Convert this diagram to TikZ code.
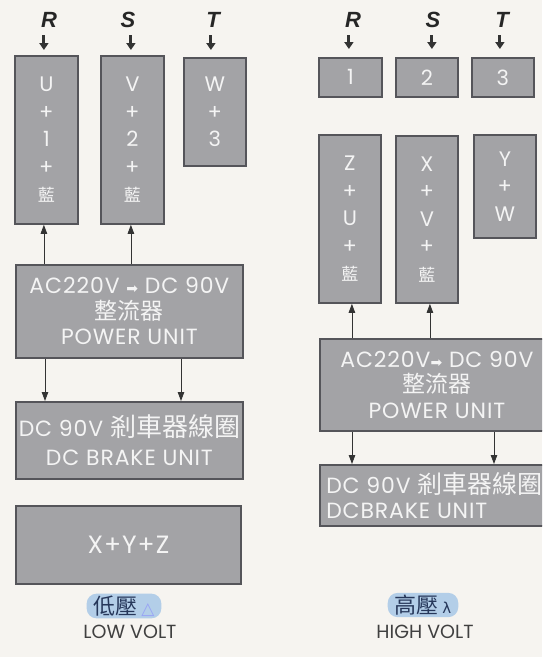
\documentclass[tikz,border=0pt]{standalone}
\usepackage{fontspec}
\setmainfont{Poppins}
\newfontfamily\boxfont{Poppins}[LetterSpace=4]
\newfontfamily\cjkfont{Noto Sans CJK TC}
\newfontfamily\symfont{DejaVu Sans}
\newfontfamily\phasefont{Liberation Sans}
\usetikzlibrary{arrows.meta,positioning,calc}
\definecolor{paper}{HTML}{F6F4F0}
\definecolor{boxfill}{HTML}{A3A3A6}
\definecolor{boxline}{HTML}{55555A}
\definecolor{boxtext}{HTML}{F4F4F4}
\definecolor{hilite}{HTML}{B3CEE8}
\definecolor{voltink}{HTML}{26375A}

\begin{document}
\begin{tikzpicture}[x=1pt,y=-1pt,
    every node/.style={font=\fontsize{18}{27}\selectfont},
    unit/.style={draw=boxline,line width=1.8pt,fill=boxfill,text=boxtext,anchor=north west,inner sep=0pt,align=center},
    col/.style={unit,font=\boxfont\fontsize{21}{27.5}\selectfont},
    phase/.style={font=\phasefont\bfseries\itshape\fontsize{22}{22}\selectfont,text=black!85},
    feed/.style={-{Triangle[length=7pt,width=9pt]},line width=3pt,black!80},
    link/.style={-{Triangle[length=9pt,width=6.5pt]},line width=0.8pt,black!80},
    tag/.style={fill=hilite,rounded corners=10pt,inner xsep=7pt,inner ysep=2pt,text=voltink,font=\cjkfont\fontsize{22}{22}\selectfont},
    volt/.style={text=black!75,font=\fontsize{19}{19}\selectfont}]
  \useasboundingbox (0,0) rectangle (542,657);
  \fill[paper] (0,0) rectangle (542,657);
  \clip (0,0) rectangle (542,657);

  % low volt side
  \node[phase] (r1) at (49,20) {R};
  \node[phase] (s1) at (128,20) {S};
  \node[phase] (t1) at (213,20) {T};
  \node[col,minimum width=63pt,minimum height=168pt] (u1) at (14,55) {U\\+\\1\\+\\{\cjkfont\fontsize{17}{17}\selectfont 藍}};
  \node[col,minimum width=63pt,minimum height=168pt] (v1) at (100,55) {V\\+\\2\\+\\{\cjkfont\fontsize{17}{17}\selectfont 藍}};
  \node[col,minimum width=62pt,minimum height=108pt] (w1) at (183,57) {W\\+\\3};
  \node[unit,minimum width=227pt,minimum height=93pt,font=\boxfont\fontsize{22}{25.5}\selectfont] (ac1) at (15,264)
    {AC220V {\symfont\fontsize{14}{14}\selectfont ➡} DC 90V\\{\cjkfont\fontsize{23}{23}\selectfont 整流器}\\POWER UNIT};
  \node[unit,minimum width=227pt,minimum height=77pt,font=\boxfont\fontsize{22}{29}\selectfont] (dc1) at (15,401)
    {DC 90V {\cjkfont\fontsize{26}{26}\selectfont 剎車器線圈}\\DC BRAKE UNIT};
  \node[unit,minimum width=225pt,minimum height=78pt,font=\boxfont\fontsize{25}{25}\selectfont] (xyz) at (15,505) {X+Y+Z};
  \draw[feed] ([xshift=-2.5pt,yshift=20pt]u1.north) -- ([xshift=-2.5pt,yshift=5pt]u1.north);
  \draw[feed] ([xshift=-1.5pt,yshift=20pt]v1.north) -- ([xshift=-1.5pt,yshift=5pt]v1.north);
  \draw[feed] ([xshift=-4pt,yshift=22pt]w1.north) -- ([xshift=-4pt,yshift=7pt]w1.north);
  \draw[link] ([xshift=-2.5pt]ac1.north -| u1.south) -- ([xshift=-2.5pt]u1.south);
  \draw[link] ([xshift=-1.5pt]ac1.north -| v1.south) -- ([xshift=-1.5pt]v1.south);
  \draw[link] ([xshift=30pt]ac1.south west) -- ([xshift=30pt]dc1.north west);
  \draw[link] ([xshift=166pt]ac1.south west) -- ([xshift=166pt]dc1.north west);
  \node[tag] (lowcn) at (124,606) {低壓\,{\symfont\color{hilite!60!blue!70}\fontsize{17}{17}\selectfont △}};
  \node[volt] (lowen) at (130,632) {LOW VOLT};

  % high volt side
  \node[phase] (r2) at (353,20) {R};
  \node[phase] (s2) at (433,20) {S};
  \node[phase] (t2) at (502,20) {T};
  \node[col,minimum width=63pt,minimum height=39pt] (one) at (318,57) {1};
  \node[col,minimum width=62pt,minimum height=39pt] (two) at (395,57) {2};
  \node[col,minimum width=62pt,minimum height=39pt] (three) at (471,57) {3};
  \node[col,minimum width=62pt,minimum height=168pt] (zu) at (318,134) {Z\\+\\U\\+\\{\cjkfont\fontsize{17}{17}\selectfont 藍}};
  \node[col,minimum width=62pt,minimum height=167pt] (xv) at (395,135) {X\\+\\V\\+\\{\cjkfont\fontsize{17}{17}\selectfont 藍}};
  \node[col,minimum width=62pt,minimum height=103pt] (yw) at (473,134) {Y\\+\\W};
  \node[unit,minimum width=234pt,minimum height=92pt,font=\boxfont\fontsize{22}{25.5}\selectfont] (ac2) at (319,338)
    {AC220V{\symfont\fontsize{14}{14}\selectfont ➡} DC 90V\\{\cjkfont\fontsize{23}{23}\selectfont 整流器}\\POWER UNIT};
  \node[unit,minimum width=229pt,minimum height=61pt,align=left,font=\boxfont\fontsize{22}{26}\selectfont] (dc2) at (319,464)
    {DC 90V {\cjkfont\fontsize{25}{25}\selectfont 剎車器線圈}\\[-1pt]DCBRAKE UNIT};
  \draw[feed] ([xshift=-1.5pt,yshift=22pt]one.north) -- ([xshift=-1.5pt,yshift=8pt]one.north);
  \draw[feed] ([xshift=5pt,yshift=22pt]two.north) -- ([xshift=5pt,yshift=8pt]two.north);
  \draw[feed] ([xshift=-3pt,yshift=22pt]three.north) -- ([xshift=-3pt,yshift=8pt]three.north);
  \draw[link] ([xshift=2pt]ac2.north -| zu.south) -- ([xshift=2pt]zu.south);
  \draw[link] ([xshift=3pt]ac2.north -| xv.south) -- ([xshift=3pt]xv.south);
  \draw[link] ([xshift=33pt]ac2.south west) -- ([xshift=33pt]dc2.north west);
  \draw[link] ([xshift=175pt]ac2.south west) -- ([xshift=175pt]dc2.north west);
  \node[tag] (highcn) at (423,605) {高壓\,{\symfont\fontsize{15}{15}\selectfont λ}};
  \node[volt] (highen) at (425,632) {HIGH VOLT};
\end{tikzpicture}
\end{document}
